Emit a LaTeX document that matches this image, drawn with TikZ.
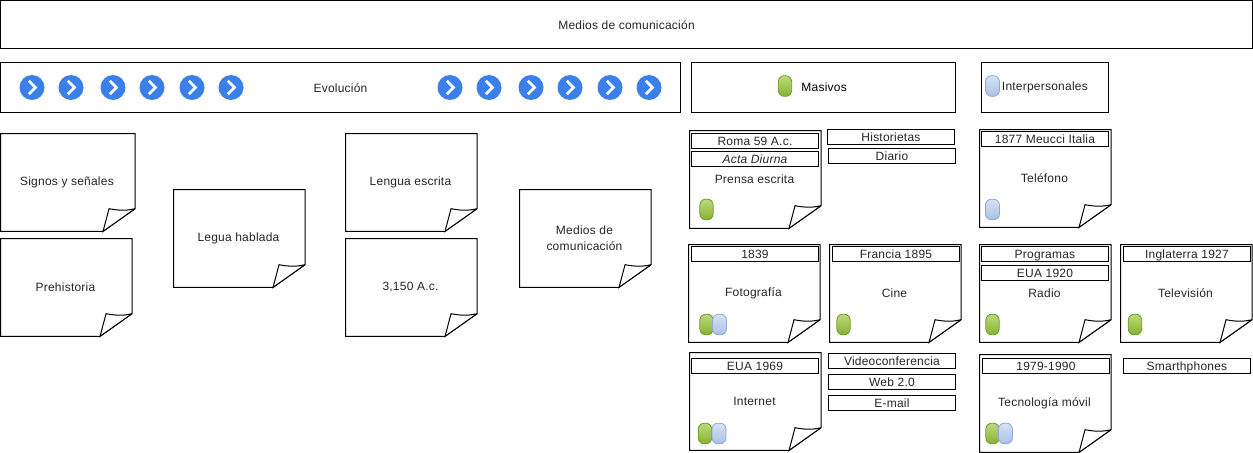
\documentclass[tikz,border=0pt]{standalone}
\usepackage{fontspec}
\setmainfont[LetterSpace=1.9]{Liberation Sans}
\usetikzlibrary{positioning}
\definecolor{arrowblue}{HTML}{3B80EA}
\definecolor{masstop}{HTML}{BCDA7C}
\definecolor{massbot}{HTML}{86B232}
\definecolor{massline}{HTML}{6F9A2A}
\definecolor{perstop}{HTML}{D6E2F4}
\definecolor{persbot}{HTML}{A9C0E4}
\definecolor{persline}{HTML}{8FA9D6}

\tikzset{
  panel/.style={draw, line width=0.75pt, fill=white, anchor=north west, inner sep=0pt, align=center, text=black!85, text height=7.5pt, text depth=0.5pt},
  tagbox/.style={draw, fill=white, anchor=north west, inner sep=0pt, minimum height=11.5pt, minimum width=95.2pt, text=black!85, line width=0.75pt, text height=7pt, text depth=1pt},
  notetxt/.style={anchor=north west, inner sep=0pt, minimum height=73pt, align=center, text=black!85},
  masspill/.style={draw=massline, line width=0.6pt, rounded corners=4.5pt, minimum width=10pt, minimum height=15.5pt, inner sep=0pt, top color=masstop, bottom color=massbot},
  perspill/.style={draw=persline, line width=0.6pt, rounded corners=4.5pt, minimum width=10.5pt, minimum height=15.5pt, inner sep=0pt, top color=perstop, bottom color=persbot},
  gocircle/.style={circle, fill=arrowblue, minimum size=18.75pt, inner sep=0pt},
  chevron/.style={draw=white, line width=1.9pt}
}

% sheet with a folded corner: name, x, y, text, wide
\newcommand{\sheet}[5]{
  \node[notetxt, minimum width=#5*0.75pt-0.75pt] (#1) at (#2,#3) {\strut};
  \draw[fill=white, line width=0.75pt] (#1.north west) -- (#1.north east) -- ([yshift=17pt]#1.south east)
    -- ([xshift=-24pt]#1.south east) -- (#1.south west) -- cycle;
  \draw[line width=0.75pt, fill=white] ([yshift=17pt]#1.south east) -- ([xshift=-24pt]#1.south east)
    -- ([xshift=-19.5pt,yshift=17pt]#1.south east) .. controls ([xshift=-12pt,yshift=15.5pt]#1.south east) and ([xshift=-6pt,yshift=15.5pt]#1.south east) .. ([yshift=17pt]#1.south east);
  \node[notetxt, minimum width=#5*0.75pt-0.75pt, xshift=-0.6pt] at (#2,#3) {#4};
}

\begin{document}
\begin{tikzpicture}[x=0.75pt, y=-0.75pt, font=\fontsize{9}{12}\selectfont]
  \useasboundingbox (0,0) rectangle (1253,453);

  \node[panel, minimum width=939pt, minimum height=35.5pt] (title) at (0,0.5) {Medios de comunicación};
  \node[panel, minimum width=510pt, minimum height=37pt] (evol) at (0,62.5) {Evolución};
  \node[panel, minimum width=198pt, minimum height=37pt] (masivos) at (691,62.5) {};
  \node[panel, minimum width=95pt, minimum height=37pt] (inter) at (981,62.5) {};

  \foreach \px [count=\i] in {32,71,113,152,192,231,450,489,531,570,610,649} {
    \node[gocircle] (go\i) at (\px,87.5) {};
    \draw[chevron] ([xshift=-2.4pt,yshift=5pt]go\i.center) -- ([xshift=2.6pt]go\i.center) -- ([xshift=-2.4pt,yshift=-5pt]go\i.center);
  }

  \node[masspill] (pillm) at (785,86) {};
  \node[right=3.5pt of pillm, yshift=-0.75pt] (masivostxt) {Masivos};
  \node[perspill] (pillp) at (992.5,86) {};
  \node[right=-2pt of pillp, text=black!85, yshift=-0.75pt] (intertxt) {Interpersonales};

  \sheet{signos}{0.5}{133.5}{\raisebox{-0.75pt}{Signos y señales}}{135}
  \sheet{prehist}{0.5}{238.5}{Prehistoria}{132}
  \sheet{habla}{173.5}{189.5}{Legua hablada}{132}
  \sheet{escrita}{345.5}{133.5}{\raisebox{-0.75pt}{Lengua escrita}}{132}
  \sheet{anyo}{345.5}{238.5}{3,150 A.c.}{132}
  \sheet{medios}{519.5}{189.5}{Medios de\\comunicación}{132}
  \sheet{prensa}{689.5}{130.5}{Prensa escrita}{132}
  \sheet{telefono}{979.5}{129.5}{Teléfono}{132}
  \sheet{foto}{688.5}{244.5}{\raisebox{-0.75pt}{Fotografía}}{132}
  \sheet{cine}{829.5}{244.5}{Cine}{132}
  \sheet{radio}{979.5}{244.5}{Radio}{132}
  \sheet{tele}{1120.5}{244.5}{Televisión}{132}
  \sheet{internet}{689.5}{352.5}{Internet}{132}
  \sheet{movil}{979.5}{354.5}{\raisebox{-1.2pt}{Tecnología móvil}}{132}

  \node[tagbox] (roma) at (691,133) {Roma 59 A.c.};
  \node[tagbox] (acta) at (691,151) {\itshape Acta Diurna};
  \node[tagbox] (hist) at (827,129) {Historietas};
  \node[tagbox] (diario) at (828,148) {Diario};
  \node[tagbox] (meucci) at (981,131) {1877 Meucci Italia};
  \node[tagbox] (y1839) at (691,246) {1839};
  \node[tagbox] (francia) at (832,246) {Francia 1895};
  \node[tagbox] (progr) at (981,246) {Programas};
  \node[tagbox] (eua20) at (981,265) {EUA 1920};
  \node[tagbox] (ingl) at (1123,246) {Inglaterra 1927};
  \node[tagbox] (eua69) at (691,358) {EUA 1969};
  \node[tagbox] (video) at (828,353) {Videoconferencia};
  \node[tagbox] (web) at (828,374) {Web 2.0};
  \node[tagbox] (email) at (828,395) {E-mail};
  \node[tagbox] (y1979) at (982,358) {1979-1990};
  \node[tagbox] (smart) at (1123,358) {Smarthphones};

  \node[masspill] (m1) at (706.5,209.5) {};
  \node[perspill] (p1) at (992.5,209.5) {};
  \node[masspill] (m2) at (706.5,324.5) {};
  \node[perspill] (p2) at (719.5,324.5) {};
  \node[masspill] (m3) at (843.5,324.5) {};
  \node[masspill] (m4) at (992.5,324.5) {};
  \node[masspill] (m5) at (1135,324.5) {};
  \node[masspill] (m6) at (705,433.5) {};
  \node[perspill] (p3) at (719,433.5) {};
  \node[masspill] (m7) at (992.5,433.5) {};
  \node[perspill] (p4) at (1005.5,433.5) {};
\end{tikzpicture}
\end{document}
